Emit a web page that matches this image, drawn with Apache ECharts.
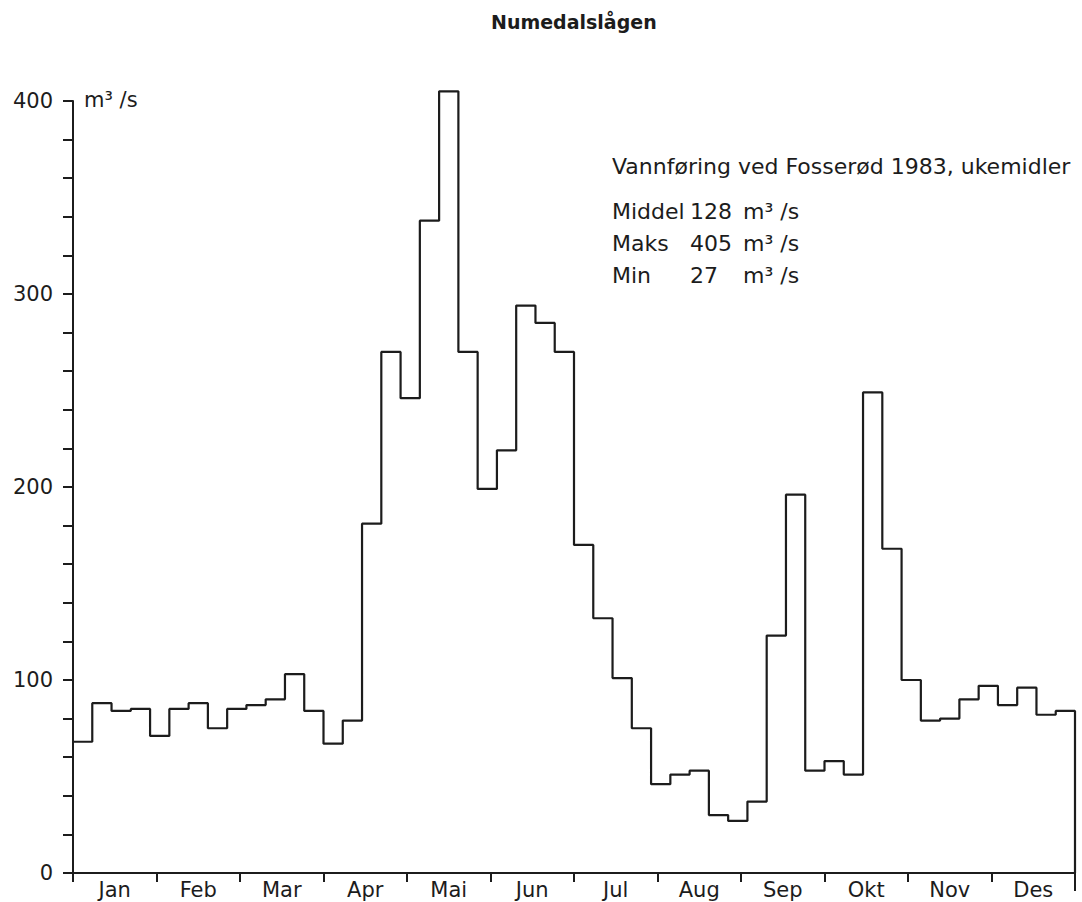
<!DOCTYPE html>
<html>
<head>
<meta charset="utf-8">
<title>Numedalslågen</title>
<script src="https://cdn.jsdelivr.net/npm/echarts@6/dist/echarts.min.js"></script>
<style>
  html, body { margin: 0; padding: 0; background: #fff; }
  #chart { width: 1082px; height: 902px; }
</style>
</head>
<body>
<div id="chart"></div>
<script>
// månedsnavn langs x-aksen
const months = ['Jan', 'Feb', 'Mar', 'Apr', 'Mai', 'Jun', 'Jul', 'Aug', 'Sep', 'Okt', 'Nov', 'Des']

// ukemidler, m3/s (uke 1 - 52), lest av figuren
const weekly = [
  68, 88, 84, 85, 71, 85, 88, 75, 85, 87, 90, 103, 84,
  67, 79, 181, 270, 246, 338, 405, 270, 199, 219, 294, 285, 270,
  170, 132, 101, 75, 46, 51, 53, 30, 27, 37, 123, 196, 53,
  58, 51, 249, 168, 100, 79, 80, 90, 97, 87, 96, 82, 84
]

// y-akse
const yTicks = [0, 100, 200, 300, 400]

// tekst i figuren
const stats = [
  ['Middel', '128', 'm³ /s'],
  ['Maks', '405', 'm³ /s'],
  ['Min', '27', 'm³ /s']
]

const FONT = '"DejaVu Sans", sans-serif'
const INK = '#1c1c1c'

// trappekurve: hver uke er ett steg, siste punkt faller ned til 0
const stepData = weekly.map((v, i) => [i, v])
stepData.push([weekly.length, 0])

const graphics = [
  {
    type: 'text', x: 491, y: 12,
    style: { text: 'Numedalslågen', font: 'bold 19px ' + FONT, fill: INK }
  },
  {
    type: 'text', x: 84, y: 89,
    style: { text: 'm³ /s', font: '21px ' + FONT, fill: INK }
  },
  {
    type: 'text', x: 612, y: 155,
    style: { text: 'Vannføring ved Fosserød 1983, ukemidler', font: '22px ' + FONT, fill: INK }
  },
  { // lang strek ved årets slutt
    type: 'line',
    shape: { x1: 1075, y1: 873, x2: 1075, y2: 891 },
    style: { stroke: INK, lineWidth: 2 }
  }
]
stats.forEach((row, i) => {
  const y = 200 + i * 32
  graphics.push(
    { type: 'text', x: 612, y: y, style: { text: row[0], font: '22px ' + FONT, fill: INK } },
    { type: 'text', x: 690, y: y, style: { text: row[1], font: '22px ' + FONT, fill: INK } },
    { type: 'text', x: 743, y: y, style: { text: row[2], font: '22px ' + FONT, fill: INK } }
  )
})

const options = {
  backgroundColor: '#fff',
  animation: false,
  grid: { left: 73, right: 7, top: 101, bottom: 29 },
  graphic: graphics,
  xAxis: [
    { // skjult akse for ukene
      type: 'value',
      min: 0,
      max: weekly.length,
      show: false
    },
    { // månedsakse
      type: 'category',
      data: months,
      position: 'bottom',
      boundaryGap: true,
      axisLine: { show: true, lineStyle: { color: INK, width: 2 } },
      axisTick: { show: true, length: 9, lineStyle: { color: INK, width: 2 } },
      axisLabel: { color: INK, fontSize: 21, fontFamily: FONT, margin: 6 },
      splitLine: { show: false }
    }
  ],
  yAxis: {
    type: 'value',
    min: yTicks[0],
    max: yTicks[yTicks.length - 1],
    interval: 100,
    axisLine: { show: true, lineStyle: { color: INK, width: 2 } },
    axisTick: { show: true, length: 10, lineStyle: { color: INK, width: 2 } },
    minorTick: { show: true, splitNumber: 5, length: 10, lineStyle: { color: INK, width: 2 } },
    axisLabel: { color: INK, fontSize: 21, fontFamily: FONT, margin: 20 },
    splitLine: { show: false },
    minorSplitLine: { show: false }
  },
  series: [
    {
      type: 'line',
      xAxisIndex: 0,
      step: 'end',
      clip: false,
      data: stepData,
      symbol: 'none',
      lineStyle: { color: INK, width: 2.2 }
    }
  ]
}

const chart = echarts.init(document.getElementById('chart'), null, { renderer: 'svg' })
chart.setOption(options)
</script>
</body>
</html>
